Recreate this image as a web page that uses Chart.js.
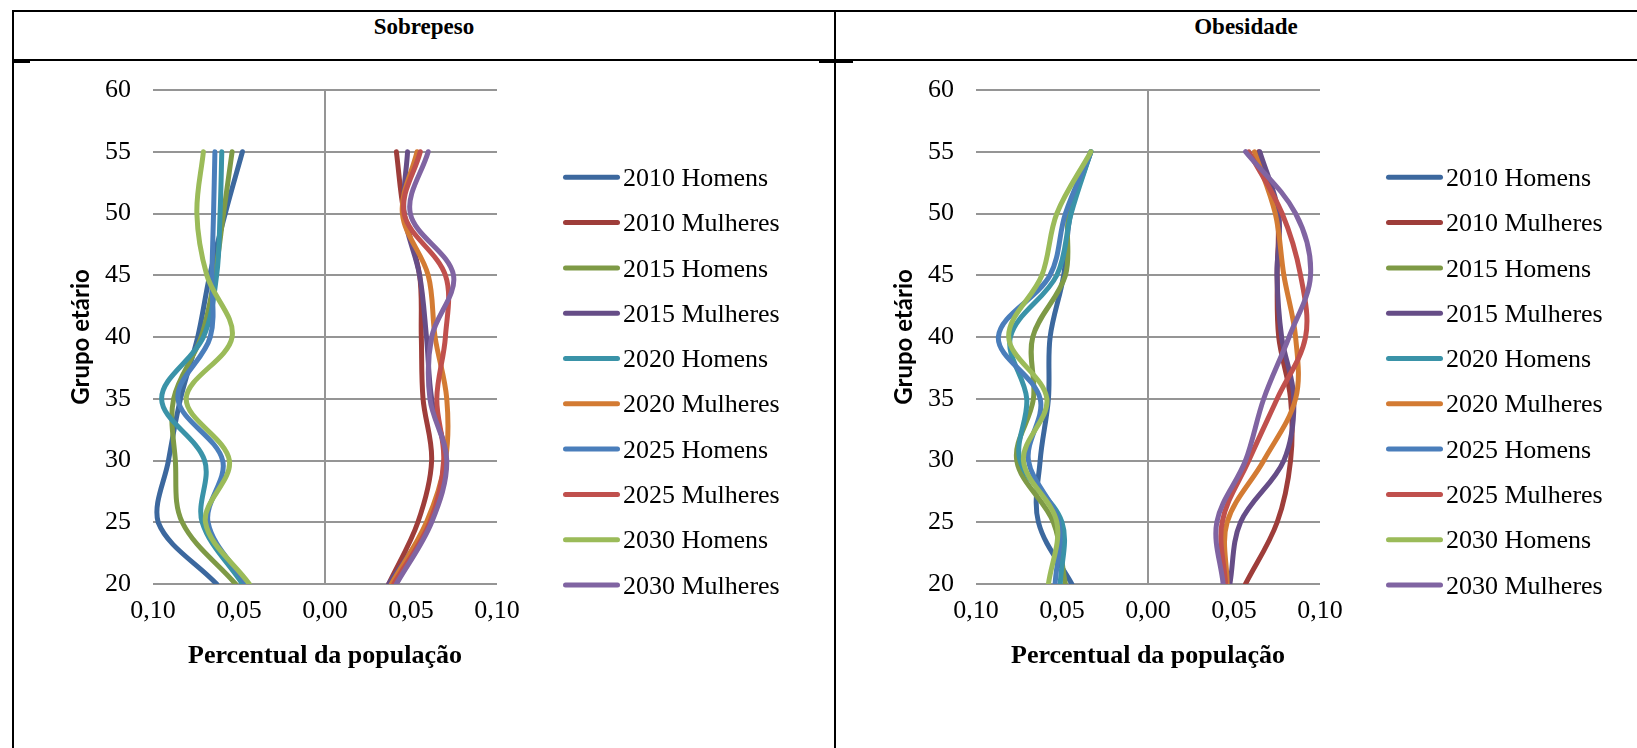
<!DOCTYPE html>
<html>
<head>
<meta charset="utf-8">
<script src="https://cdn.jsdelivr.net/npm/chart.js@4.4.1/dist/chart.umd.min.js"></script>
<style>
  body { margin: 0; background: #fff; width: 1637px; height: 748px; overflow: hidden; position: relative; }
  .ln { position: absolute; background: #000; }
  .cab { position: absolute; top: 14px; font: bold 23px "Liberation Serif", "Times New Roman", serif; color: #000; transform: translateX(-50%); white-space: nowrap; }
  canvas { position: absolute; top: 63px; }
</style>
</head>
<body>
<!-- linhas da tabela -->
<div class="ln" style="left:12px; top:10px; width:1625px; height:2px;"></div>
<div class="ln" style="left:12px; top:10px; width:2px; height:738px;"></div>
<div class="ln" style="left:12px; top:59px; width:1625px; height:2px;"></div>
<div class="ln" style="left:834px; top:10px; width:2px; height:738px;"></div>
<div class="ln" style="left:13px; top:59px; width:17px; height:3.5px;"></div>
<div class="ln" style="left:819px; top:59px; width:34px; height:3.5px;"></div>

<div class="cab" style="left:424px;">Sobrepeso</div>
<div class="cab" style="left:1246px;">Obesidade</div>

<canvas id="sobrepeso" width="790" height="685" style="left:14px;"></canvas>
<canvas id="obesidade" width="790" height="685" style="left:837px;"></canvas>

<script>
// grupos etários (eixo vertical)
const idades = [20, 25, 30, 35, 40, 45, 50, 55];
const rotulos = ['2010 Homens', '2010 Mulheres', '2015 Homens', '2015 Mulheres', '2020 Homens',
                 '2020 Mulheres', '2025 Homens', '2025 Mulheres', '2030 Homens', '2030 Mulheres'];
const cores = ['#3C689E', '#9E3D3A', '#7E9A46', '#664D87', '#3A93A8',
               '#D37B33', '#4A7EBB', '#C0504D', '#9BBB59', '#8064A2'];

// Sobrepeso (homens negativos, mulheres positivos), idades 20..55
const sob2010H = [-0.063, -0.097, -0.091, -0.084, -0.074, -0.067, -0.058, -0.048];
const sob2010M = [0.037, 0.054, 0.062, 0.057, 0.056, 0.055, 0.046, 0.0415];
const sob2015H = [-0.052, -0.083, -0.087, -0.088, -0.072, -0.064, -0.059, -0.054];
const sob2015M = [0.037, 0.060, 0.070, 0.062, 0.059, 0.055, 0.046, 0.048];
const sob2020H = [-0.048, -0.0714, -0.070, -0.095, -0.0707, -0.063, -0.061, -0.060];
const sob2020M = [0.0386, 0.059, 0.070, 0.0708, 0.064, 0.060, 0.045, 0.0535];
const sob2025H = [-0.046, -0.068, -0.0595, -0.0855, -0.0667, -0.0658, -0.0648, -0.064];
const sob2025M = [0.040, 0.061, 0.069, 0.065, 0.070, 0.070, 0.046, 0.0554];
const sob2030H = [-0.044, -0.0695, -0.0556, -0.0807, -0.054, -0.0687, -0.0745, -0.0707];
const sob2030M = [0.0415, 0.062, 0.0708, 0.061, 0.062, 0.0747, 0.0496, 0.060];

// Obesidade
const obe2010H = [-0.0443, -0.0637, -0.0627, -0.0579, -0.0569, -0.049, -0.045, -0.0332];
const obe2010M = [0.0567, 0.0751, 0.0829, 0.0829, 0.076, 0.0751, 0.0751, 0.0644];
const obe2015H = [-0.048, -0.055, -0.0763, -0.0666, -0.067, -0.048, -0.046, -0.0332];
const obe2015M = [0.0476, 0.0538, 0.079, 0.0848, 0.0777, 0.075, 0.076, 0.065];
const obe2020H = [-0.051, -0.050, -0.0744, -0.0705, -0.080, -0.053, -0.0447, -0.0332];
const obe2020M = [0.046, 0.046, 0.0673, 0.0858, 0.0858, 0.079, 0.074, 0.0619];
const obe2025H = [-0.054, -0.052, -0.0695, -0.0627, -0.087, -0.057, -0.048, -0.0332];
const obe2025M = [0.0451, 0.0431, 0.0586, 0.0751, 0.0916, 0.0887, 0.078, 0.0586];
const obe2030H = [-0.0579, -0.053, -0.0724, -0.0588, -0.081, -0.0617, -0.053, -0.0332];
const obe2030M = [0.0437, 0.040, 0.0567, 0.0673, 0.082, 0.0945, 0.0858, 0.0567];

const serieSobrepeso = [sob2010H, sob2010M, sob2015H, sob2015M, sob2020H, sob2020M, sob2025H, sob2025M, sob2030H, sob2030M];
const serieObesidade = [obe2010H, obe2010M, obe2015H, obe2015M, obe2020H, obe2020M, obe2025H, obe2025M, obe2030H, obe2030M];

const serif = '"Liberation Serif", "Times New Roman", serif';
const cinza = '#959595';

// legenda desenhada ao lado do gráfico
const legendaLateral = {
  id: 'legendaLateral',
  afterDraw(chart, args, opts) {
    const ctx = chart.ctx;
    ctx.save();
    chart.data.datasets.forEach((ds, i) => {
      const y = opts.top + i * opts.step;
      ctx.strokeStyle = ds.borderColor;
      ctx.lineWidth = 5;
      ctx.lineCap = 'round';
      ctx.beginPath();
      ctx.moveTo(opts.x0, y);
      ctx.lineTo(opts.x1, y);
      ctx.stroke();
      ctx.fillStyle = '#000';
      ctx.font = '26px ' + serif;
      ctx.textBaseline = 'alphabetic';
      ctx.fillText(ds.label, opts.textX, y + 8.6);
    });
    ctx.restore();
  }
};

function criarGrafico(id, series) {
  const ctx = document.getElementById(id).getContext('2d');
  return new Chart(ctx, {
    type: 'line',
    data: {
      datasets: series.map((vals, i) => ({
        label: rotulos[i],
        data: idades.map((a, k) => ({ x: vals[k], y: a })),
        borderColor: cores[i],
        backgroundColor: cores[i],
        borderWidth: 5,
        borderCapStyle: 'round',
        borderJoinStyle: 'round',
        pointRadius: 0,
        tension: 0.35,
        order: 10 - i
      }))
    },
    options: {
      indexAxis: 'y',
      responsive: false,
      animation: false,
      devicePixelRatio: 1,
      layout: { padding: { left: 0, top: 27, right: 790 - 483, bottom: 64 } },
      scales: {
        x: {
          type: 'linear',
          min: -0.10,
          max: 0.10,
          afterFit: (s) => { s.height = 100; },
          ticks: {
            stepSize: 0.05,
            padding: 12,
            color: '#000',
            font: { family: serif, size: 26 },
            callback: (v) => Math.abs(v).toFixed(2).replace('.', ',')
          },
          grid: {
            drawTicks: false,
            lineWidth: 2,
            color: (c) => (c.tick && Math.abs(c.tick.value) < 1e-9) ? cinza : 'rgba(0,0,0,0)'
          },
          border: { display: false },
          title: {
            display: true,
            text: 'Percentual da população',
            color: '#000',
            font: { family: serif, size: 26, weight: 'bold' },
            padding: { top: 0, bottom: 11.7 }
          }
        },
        y: {
          type: 'linear',
          min: 20,
          max: 60,
          afterFit: (s) => { s.width = 139; s.paddingTop = 0; s.paddingBottom = 0; },
          ticks: {
            stepSize: 5,
            padding: 22,
            color: '#000',
            font: { family: serif, size: 26 }
          },
          grid: { drawTicks: false, lineWidth: 2, color: cinza },
          border: { display: false },
          title: {
            display: true,
            text: 'Grupo etário',
            color: '#000',
            font: { family: 'Lato', size: 24, weight: 'bold' },
            padding: { top: 52.6, bottom: 0 }
          }
        }
      },
      plugins: {
        legend: { display: false },
        tooltip: { enabled: false },
        legendaLateral: { top: 114.3, step: 45.3, x0: 551.5, x1: 603.5, textX: 609 }
      }
    },
    plugins: [legendaLateral]
  });
}

criarGrafico('sobrepeso', serieSobrepeso);
criarGrafico('obesidade', serieObesidade);
</script>
</body>
</html>
